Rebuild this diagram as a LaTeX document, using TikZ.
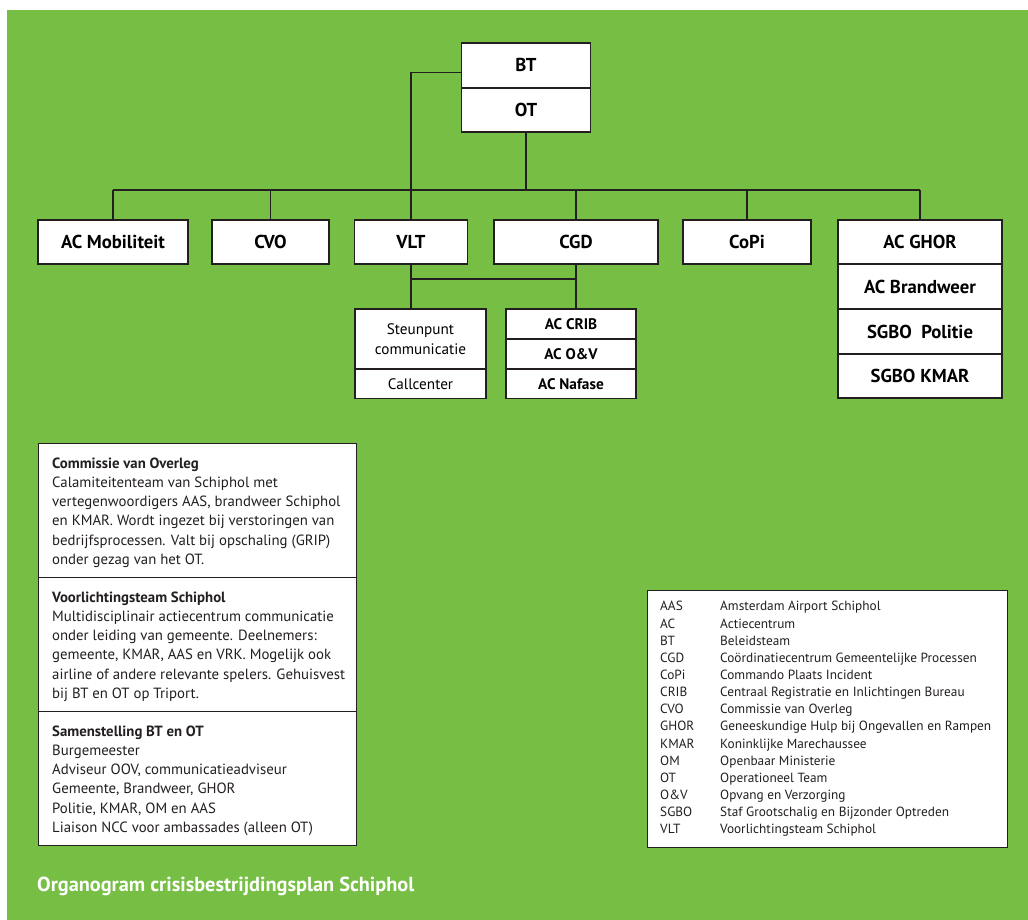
\documentclass[tikz,border=0pt]{standalone}
\usepackage{fontspec}
\setmainfont{PT Sans}
\definecolor{bggreen}{RGB}{118,191,68}
\definecolor{ln}{RGB}{35,31,32}
\begin{document}
\begin{tikzpicture}[x=1pt,y=-1pt,
  box/.style={draw=ln, line width=1.4pt, fill=white, inner sep=0pt, align=center,
    text height=13pt, text depth=0pt, font=\bfseries\fontsize{18.7}{20}\selectfont},
  smallbox/.style={box, text height=10.8pt, font=\bfseries\fontsize{15.3}{16}\selectfont},
  regbox/.style={draw=ln, line width=1.4pt, fill=white, inner sep=0pt, align=center,
    font=\fontsize{15.2}{20}\selectfont},
  infobox/.style={draw=ln, line width=1.4pt, fill=white, inner sep=0pt, anchor=north west,
    minimum width=318, minimum height=134},
  infotext/.style={anchor=north west, inner sep=0pt, align=left, text=ln,
    font=\fontsize{14.8}{19.2}\selectfont},
  legtext/.style={anchor=north west, inner sep=0pt, align=left, text=ln,
    font=\fontsize{13.3}{17.15}\selectfont},
  conn/.style={draw=ln, line width=1.4pt}]
\useasboundingbox (0,0) rectangle (1028,920);
\fill[white] (0,0) rectangle (1028,920);
\fill[bggreen] (7,10) rectangle (1028,920);

% top
\node[box, minimum width=129, minimum height=45] (BT) at (526,65.5) {BT};
\node[box, minimum width=129, minimum height=44] (OT) at (526,110) {OT};

% row
\node[box, minimum width=150, minimum height=44] (ACM) at (113,242) {AC Mobiliteit};
\node[box, minimum width=117, minimum height=44] (CVO) at (270.5,242) {CVO};
\node[box, minimum width=113, minimum height=44] (VLT) at (411,242) {VLT};
\node[box, minimum width=164, minimum height=44] (CGD) at (576,242) {CGD};
\node[box, minimum width=128, minimum height=44] (CoPi) at (747,242) {CoPi};
\node[box, minimum width=164, minimum height=44] (GHOR) at (920,242) {AC GHOR};
\node[box, minimum width=164, minimum height=45] (ACB) at (920,286.5) {AC Brandweer};
\node[box, minimum width=164, minimum height=45] (SGP) at (920,331.5) {SGBO\ \ Politie};
\node[box, minimum width=164, minimum height=44] (SGK) at (920,376) {SGBO KMAR};

% sub boxes
\node[regbox, minimum width=131, minimum height=60] (SP) at (420.5,339) {Steunpunt\\communicatie};
\node[regbox, minimum width=131, minimum height=29.5] (CC) at (420.5,383.75) {Callcenter};
\node[smallbox, minimum width=130, minimum height=30] (CRIB) at (571,324) {AC CRIB};
\node[smallbox, minimum width=130, minimum height=30] (OV) at (571,354) {AC O\&V};
\node[smallbox, minimum width=130, minimum height=29.5] (NAF) at (571,383.75) {AC Nafase};

% connectors
\coordinate (busL) at (113,190);
\coordinate (busR) at (920,190);
\coordinate (sub) at (411,279);
\draw[conn] (busL) -- (busR);
\draw[conn] (OT.south) -- (OT.south |- busL);
\draw[conn] ([yshift=-7pt]BT.west) -| (VLT.north);
\foreach \n in {ACM,CVO,CGD,CoPi,GHOR} \draw[conn] (\n.north |- busL) -- (\n.north);
\draw[conn] (VLT.south) -- (VLT.south |- SP.north);
\draw[conn] (CGD.south) -- (CGD.south |- CRIB.north);
\draw[conn] (sub) -- (CGD.south |- sub);

% info boxes
\node[infobox] (I1) at (38,443) {};
\node[infobox] (I2) at (38,577) {};
\node[infobox] (I3) at (38,711) {};
\node[infotext] (T1) at (52,454.6) {\strut\textbf{Commissie van Overleg}\\
Calamiteitenteam van Schiphol met\\
vertegenwoordigers AAS, brandweer Schiphol\\
en KMAR. Wordt ingezet bij verstoringen van\\
bedrijfsprocessen. Valt bij opschaling (GRIP)\\
onder gezag van het OT.};
\node[infotext] (T2) at (52,588.6) {\strut\textbf{Voorlichtingsteam Schiphol}\\
Multidisciplinair actiecentrum communicatie\\
onder leiding van gemeente. Deelnemers:\\
gemeente, KMAR, AAS en VRK. Mogelijk ook\\
airline of andere relevante spelers. Gehuisvest\\
bij BT en OT op Triport.};
\node[infotext] (T3) at (52,722.6) {\strut\textbf{Samenstelling BT en OT}\\
Burgemeester\\
Adviseur OOV, communicatieadviseur\\
Gemeente, Brandweer, GHOR\\
Politie, KMAR, OM en AAS\\
Liaison NCC voor ambassades (alleen OT)};

% legend
\node[draw=ln, line width=1.4pt, fill=white, anchor=north west, minimum width=360, minimum height=257, inner sep=0pt] (LEG) at (647,590) {};
\node[legtext] (LA) at (660,598.7) {\strut AAS\\AC\\BT\\CGD\\CoPi\\CRIB\\CVO\\GHOR\\KMAR\\OM\\OT\\O\&V\\SGBO\\VLT};
\node[legtext] (LB) at (720,598.7) {\strut Amsterdam Airport Schiphol\\
Actiecentrum\\
Beleidsteam\\
Coördinatiecentrum Gemeentelijke Processen\\
Commando Plaats Incident\\
Centraal Registratie en Inlichtingen Bureau\\
Commissie van Overleg\\
Geneeskundige Hulp bij Ongevallen en Rampen\\
Koninklijke Marechaussee\\
Openbaar Ministerie\\
Operationeel Team\\
Opvang en Verzorging\\
Staf Grootschalig en Bijzonder Optreden\\
Voorlichtingsteam Schiphol};

% caption
\node[anchor=base west, inner sep=0pt, text=white, font=\bfseries\fontsize{20.3}{22}\selectfont] (CAP) at (37,891.7) {Organogram crisisbestrijdingsplan Schiphol};
\end{tikzpicture}
\end{document}
